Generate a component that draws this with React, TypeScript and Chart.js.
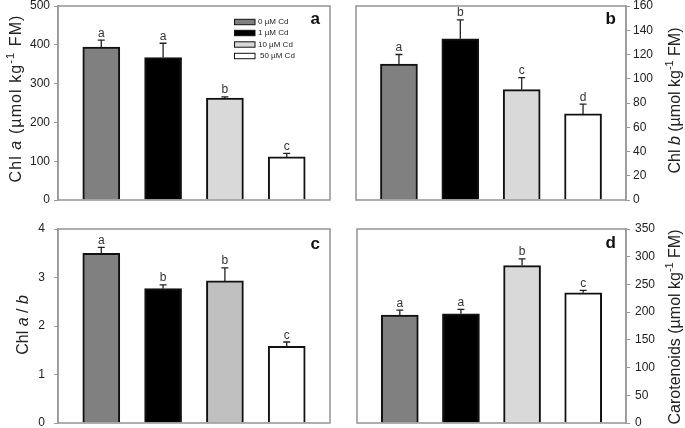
import React, { useEffect, useRef } from 'react';
import { Chart, registerables } from 'chart.js';

Chart.register(...registerables);

// ---------- data ----------
const categories = ['0 µM Cd', '1 µM Cd', '10 µM Cd', '50 µM Cd'];
const xPositions = [1, 2, 3, 4];

const chlA = [394, 367, 263, 111];
const chlAErr = [18, 37, 3, 9];
const chlALetters = ['a', 'a', 'b', 'c'];

const chlB = [112, 133, 91, 71];
const chlBErr = [8, 15.5, 10, 8];
const chlBLetters = ['a', 'b', 'c', 'd'];

const ratioAB = [3.5, 2.77, 2.93, 1.58];
const ratioABErr = [0.12, 0.08, 0.27, 0.09];
const ratioLetters = ['a', 'b', 'b', 'c'];

const carot = [194.5, 197, 284, 235];
const carotErr = [9, 8, 12, 4.3];
const carotLetters = ['a', 'a', 'b', 'c'];

const barColors = ['#808080', '#000000', '#d9d9d9', '#ffffff'];
const barColorsC = ['#808080', '#000000', '#c0c0c0', '#ffffff'];

const FONT = '"Liberation Sans", Arial, sans-serif';

type Seg = { t: string; i?: boolean; sup?: boolean };

type Panel = {
  letter: string;
  values: number[];
  errors: number[];
  letters: string[];
  colors: string[];
  max: number;
  step: number;
  area: { left: number; right: number; top: number; bottom: number };
  side: 'left' | 'right';
  tickPad: number;
  title: Seg[];
  titleX: number;
  titleY: number;
  titleSize: number;
  titleSpacing: number;
  legend: boolean;
  letterTop: number;
};

const panels: Panel[] = [
  {
    letter: 'a', values: chlA, errors: chlAErr, letters: chlALetters, colors: barColors,
    max: 500, step: 100, area: { left: 58, right: 330, top: 6, bottom: 200 }, side: 'left', tickPad: 4,
    title: [{ t: 'Chl ' }, { t: 'a', i: true }, { t: ' (µmol kg' }, { t: '-1', sup: true }, { t: ' FM)' }],
    titleX: 20.5, titleY: 98.5, titleSize: 16, titleSpacing: 1.1, legend: true, letterTop: 18,
  },
  {
    letter: 'b', values: chlB, errors: chlBErr, letters: chlBLetters, colors: barColors,
    max: 160, step: 20, area: { left: 356, right: 626, top: 6, bottom: 200 }, side: 'right', tickPad: 3,
    title: [{ t: 'Chl ' }, { t: 'b', i: true }, { t: ' (µmol kg' }, { t: '-1', sup: true }, { t: ' FM)' }],
    titleX: 680, titleY: 100.5, titleSize: 16, titleSpacing: 0, legend: false, letterTop: 18,
  },
  {
    letter: 'c', values: ratioAB, errors: ratioABErr, letters: ratioLetters, colors: barColorsC,
    max: 4, step: 1, area: { left: 58, right: 330, top: 229, bottom: 423 }, side: 'left', tickPad: 9,
    title: [{ t: 'Chl ' }, { t: 'a', i: true }, { t: ' / ' }, { t: 'b', i: true }],
    titleX: 28, titleY: 325, titleSize: 16, titleSpacing: 0, legend: false, letterTop: 20,
  },
  {
    letter: 'd', values: carot, errors: carotErr, letters: carotLetters, colors: barColors,
    max: 350, step: 50, area: { left: 357, right: 626, top: 229, bottom: 423 }, side: 'right', tickPad: 5,
    title: [{ t: 'Carotenoids (µmol kg' }, { t: '-1', sup: true }, { t: ' FM)' }],
    titleX: 680, titleY: 327, titleSize: 16, titleSpacing: 0, legend: false, letterTop: 19,
  },
];

function drawRich(ctx: CanvasRenderingContext2D, segs: Seg[], x: number, y: number, size: number, spacing: number) {
  ctx.save();
  (ctx as any).letterSpacing = spacing + 'px';
  const fontFor = (s: Seg) => `${s.i ? 'italic ' : ''}${s.sup ? size * 0.68 : size}px ${FONT}`;
  let total = 0;
  const widths = segs.map((s) => {
    ctx.font = fontFor(s);
    const w = ctx.measureText(s.t).width;
    total += w;
    return w;
  });
  ctx.translate(x, y);
  ctx.rotate(-Math.PI / 2);
  ctx.fillStyle = '#222';
  ctx.textAlign = 'left';
  ctx.textBaseline = 'alphabetic';
  let cx = -total / 2;
  segs.forEach((s, i) => {
    ctx.font = fontFor(s);
    ctx.fillText(s.t, cx, s.sup ? -size * 0.42 : 0);
    cx += widths[i];
  });
  ctx.restore();
}

function makePlugin(p: Panel) {
  return {
    id: 'panelDeco' + p.letter,
    afterDatasetsDraw(chart: any) {
      const ctx: CanvasRenderingContext2D = chart.ctx;
      const { left, right, top, bottom } = chart.chartArea;
      const yScale = chart.scales.y;
      const meta = chart.getDatasetMeta(0);
      ctx.save();
      // frame
      ctx.strokeStyle = '#9a9a9a';
      ctx.lineWidth = 1.6;
      ctx.strokeRect(left, top, right - left, bottom - top);
      // error bars + letters
      meta.data.forEach((bar: any, i: number) => {
        const yb = yScale.getPixelForValue(p.values[i]);
        const ye = yScale.getPixelForValue(p.values[i] + p.errors[i]);
        ctx.strokeStyle = '#222';
        ctx.lineWidth = 1.3;
        ctx.beginPath();
        ctx.moveTo(bar.x, yb);
        ctx.lineTo(bar.x, ye);
        ctx.moveTo(bar.x - 3.5, ye);
        ctx.lineTo(bar.x + 3.5, ye);
        ctx.stroke();
        ctx.fillStyle = '#333';
        ctx.font = `12px ${FONT}`;
        ctx.textAlign = 'center';
        ctx.textBaseline = 'alphabetic';
        ctx.fillText(p.letters[i], bar.x, ye - 3.5);
      });
      // panel letter
      ctx.font = `bold 17px ${FONT}`;
      ctx.textAlign = 'right';
      ctx.textBaseline = 'alphabetic';
      ctx.fillStyle = '#111';
      ctx.fillText(p.letter, right - 10, top + p.letterTop);
      // legend
      if (p.legend) {
        const rows = [22, 33, 44.5, 56];
        ctx.font = `8px ${FONT}`;
        ctx.textAlign = 'left';
        ctx.textBaseline = 'middle';
        categories.forEach((c, i) => {
          const cy = rows[i];
          ctx.fillStyle = p.colors[i];
          ctx.fillRect(234.5, cy - 2.7, 20.5, 5.4);
          ctx.strokeStyle = '#111';
          ctx.lineWidth = 1;
          ctx.strokeRect(234.5, cy - 2.7, 20.5, 5.4);
          ctx.fillStyle = '#222';
          ctx.fillText(c, i === 3 ? 260 : 258, cy);
        });
      }
      ctx.restore();
      drawRich(ctx, p.title, p.titleX, p.titleY, p.titleSize, p.titleSpacing);
    },
  };
}

function makeChart(canvas: HTMLCanvasElement, p: Panel) {
  const W = 685;
  const H = 428;
  const axisW = 40;
  const a = p.area;
  const padding =
    p.side === 'left'
      ? { left: a.left - axisW, right: W - a.right, top: a.top, bottom: H - a.bottom }
      : { left: a.left, right: W - a.right - axisW, top: a.top, bottom: H - a.bottom };
  return new Chart(canvas, {
    type: 'bar',
    data: {
      labels: categories,
      datasets: [
        {
          data: xPositions.map((x, i) => ({ x, y: p.values[i] })) as any,
          backgroundColor: p.colors,
          borderColor: '#111',
          borderWidth: 2,
          borderSkipped: 'start',
          barThickness: 37,
        },
      ],
    },
    options: {
      responsive: false,
      animation: false,
      events: [],
      layout: { padding, autoPadding: false } as any,
      plugins: { legend: { display: false }, tooltip: { enabled: false } },
      scales: {
        x: {
          type: 'linear',
          display: false,
          min: 0.3,
          max: 4.7,
          offset: false,
          grid: { display: false },
        },
        y: {
          position: p.side,
          min: 0,
          max: p.max,
          afterFit: (s: any) => {
            s.width = axisW;
            s.paddingTop = 0;
            s.paddingBottom = 0;
          },
          ticks: {
            stepSize: p.step,
            padding: p.tickPad,
            color: '#222',
            font: { family: FONT, size: 12 },
          },
          grid: { drawOnChartArea: false, drawTicks: true, tickLength: 4, color: '#9a9a9a', lineWidth: 1 },
          border: { display: true, color: '#9a9a9a', width: 1.6 },
        },
      },
    } as any,
    plugins: [makePlugin(p)],
  });
}

export default function App() {
  const r0 = useRef<HTMLCanvasElement>(null);
  const r1 = useRef<HTMLCanvasElement>(null);
  const r2 = useRef<HTMLCanvasElement>(null);
  const r3 = useRef<HTMLCanvasElement>(null);
  const refs = [r0, r1, r2, r3];
  useEffect(() => {
    const charts = panels.map((p, i) => makeChart(refs[i].current as HTMLCanvasElement, p));
    return () => charts.forEach((c) => c.destroy());
  }, []);
  return (
    <div style={{ position: 'fixed', left: 0, top: 0, width: 685, height: 428, background: '#fff' }}>
      {panels.map((p, i) => (
        <canvas
          key={p.letter}
          ref={refs[i]}
          width={685}
          height={428}
          style={{ position: 'absolute', left: 0, top: 0 }}
        />
      ))}
    </div>
  );
}
